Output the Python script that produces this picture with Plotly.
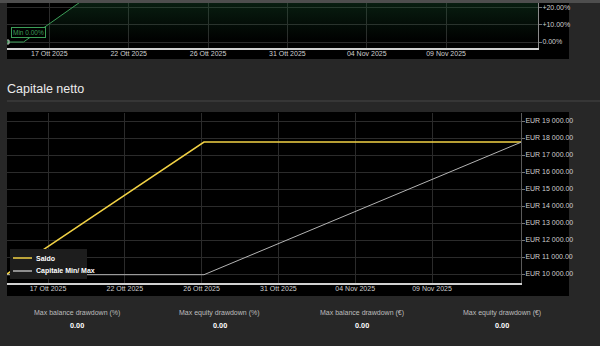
import plotly.graph_objects as go

# ---------------- data ----------------
dates = ["2025-10-14 10:30", "2025-10-26 18:00", "2025-11-15 13:30"]
saldo = [10000, 17760, 17760]
capitale_min_max = [9960, 9960, 17750]

growth_dates = ["2025-10-14 10:30", "2025-10-15 10:30", "2025-10-26 18:00", "2025-11-15 13:30"]
growth_pct = [0.0, 0.0, 77.6, 77.6]

tick_dates = ["2025-10-17 00:00", "2025-10-21 19:12", "2025-10-26 14:24",
              "2025-10-31 09:36", "2025-11-05 04:48", "2025-11-10 00:00"]
tick_labels = ["17 Ott 2025", "22 Ott 2025", "26 Ott 2025",
               "31 Ott 2025", "04 Nov 2025", "09 Nov 2025"]

eur_ticks = [10000, 11000, 12000, 13000, 14000, 15000, 16000, 17000, 18000, 19000]
eur_labels = ["EUR " + f"{v:,.2f}".replace(",", " ") for v in eur_ticks]
pct_ticks = [0, 10, 20]
pct_labels = ["0.00%", "+10.00%", "+20.00%"]

stat_labels = ["Max balance drawdown (%)", "Max equity drawdown (%)",
               "Max balance drawdown (\u20ac)", "Max equity drawdown (\u20ac)"]
stat_values = ["0.00", "0.00", "0.00", "0.00"]

x_range = ["2025-10-14 10:30", "2025-11-15 13:30"]
eur_range = [9471, 19471]
pct_range = [-3.53, 24.7]

# ---------------- layout helpers ----------------
W, H = 600, 346
def px(x):
    return x / W
def py(y):
    return 1 - y / H

FONT = "Liberation Sans, Arial, sans-serif"
GRID = "#2b2b2b"
TICKC = "#cfcfcf"
SALDO_C = "#f2d245"
CAP_C = "#b4b4b4"
GREEN = "#3c9e58"

fig = go.Figure()

# top (growth) chart
fig.add_trace(go.Scatter(
    x=growth_dates, y=growth_pct, mode="lines+markers", name="Crescita",
    line=dict(color=GREEN, width=1),
    marker=dict(size=[4, 0, 0, 0], symbol="square", color=GREEN),
    fill="tozeroy",
    fillgradient=dict(type="vertical",
                      colorscale=[[0, "rgba(30,110,60,0)"], [1, "rgba(30,110,60,0.9)"]]),
    xaxis="x2", yaxis="y2", showlegend=False, hoverinfo="skip"))

# main chart
fig.add_trace(go.Scatter(x=dates, y=saldo, mode="lines", name="Saldo",
                         line=dict(color=SALDO_C, width=1.5),
                         xaxis="x", yaxis="y", showlegend=False))
fig.add_trace(go.Scatter(x=dates, y=capitale_min_max, mode="lines", name="Capitale Min/ Max",
                         line=dict(color=CAP_C, width=1),
                         xaxis="x", yaxis="y", showlegend=False))

axis_font = dict(family=FONT, size=7, color=TICKC)

fig.update_layout(
    width=W, height=H, autosize=False,
    margin=dict(l=0, r=0, t=0, b=0, pad=0),
    paper_bgcolor="#272727", plot_bgcolor="#000000",
    showlegend=False,
    xaxis=dict(domain=[px(7), px(521)], anchor="y", type="date", range=x_range,
               tickvals=tick_dates, ticktext=tick_labels, tickfont=axis_font,
               showgrid=True, gridcolor=GRID, gridwidth=1,
               showline=True, linecolor="#d0d0d0", linewidth=1.5,
               ticks="", zeroline=False, ticklabelstandoff=-2),
    yaxis=dict(domain=[py(283), py(113)], anchor="x", side="right", range=eur_range,
               tickvals=eur_ticks, ticktext=eur_labels, tickfont=axis_font,
               showgrid=True, gridcolor=GRID, gridwidth=1,
               showline=True, linecolor="#5a5a5a", linewidth=1,
               ticks="outside", ticklen=3, tickcolor="#777", zeroline=False,
               ticklabelstandoff=-1),
    xaxis2=dict(domain=[px(7), px(538)], anchor="y2", type="date", range=x_range,
                tickvals=tick_dates, ticktext=tick_labels, tickfont=axis_font,
                showgrid=True, gridcolor=GRID, gridwidth=1,
                showline=True, linecolor="#d0d0d0", linewidth=1.5,
                ticks="", zeroline=False, ticklabelstandoff=-2),
    yaxis2=dict(domain=[py(48), 1], anchor="x2", side="right", range=pct_range,
                tickvals=pct_ticks, ticktext=pct_labels, tickfont=axis_font,
                showgrid=True, gridcolor=GRID, gridwidth=1,
                showline=True, linecolor="#8a8a8a", linewidth=1,
                ticks="outside", ticklen=3, tickcolor="#777", zeroline=False,
                ticklabelstandoff=-1),
)

shapes = []
# panels
shapes.append(dict(type="rect", xref="paper", yref="paper", x0=px(7), x1=px(569),
                   y0=py(59), y1=1, fillcolor="#000000", line=dict(width=0), layer="below"))
shapes.append(dict(type="rect", xref="paper", yref="paper", x0=px(7), x1=px(569),
                   y0=py(296), y1=py(112), fillcolor="#000000", line=dict(width=0), layer="below"))
# top header bar
shapes.append(dict(type="rect", xref="paper", yref="paper", x0=0, x1=1,
                   y0=py(3), y1=1, fillcolor="#4e4e4e", line=dict(width=0), layer="above"))
# separator under title
shapes.append(dict(type="line", xref="paper", yref="paper", x0=px(7), x1=1,
                   y0=py(101), y1=py(101), line=dict(color="#464646", width=1)))
# custom legend box and swatches
shapes.append(dict(type="rect", xref="paper", yref="paper", x0=px(10), x1=px(87),
                   y0=py(279), y1=py(249), fillcolor="#1d1d1d", line=dict(width=0), layer="above"))
shapes.append(dict(type="line", xref="paper", yref="paper", x0=px(13), x1=px(32),
                   y0=py(258), y1=py(258), line=dict(color=SALDO_C, width=1.5), layer="above"))
shapes.append(dict(type="line", xref="paper", yref="paper", x0=px(13), x1=px(32),
                   y0=py(271), y1=py(271), line=dict(color=CAP_C, width=1.5), layer="above"))
fig.update_layout(shapes=shapes)

ann = []
ann.append(dict(xref="paper", yref="paper", x=px(5), y=py(89), xanchor="left", yanchor="middle",
                text="Capitale netto", showarrow=False,
                font=dict(family=FONT, size=12.5, color="#ececec")))
ann.append(dict(xref="x2", yref="y2", x=growth_dates[0], y=growth_pct[0],
                xanchor="left", yanchor="bottom", xshift=4, yshift=4,
                text="Min 0.00%", showarrow=False, bgcolor="#000000",
                bordercolor=GREEN, borderwidth=1, borderpad=1,
                font=dict(family=FONT, size=6.5, color=GREEN)))
for i, name in enumerate(["Saldo", "Capitale Min/ Max"]):
    ann.append(dict(xref="paper", yref="paper", x=px(34), y=py(258 + 13 * i),
                    xanchor="left", yanchor="middle", text="<b>" + name + "</b>", showarrow=False,
                    font=dict(family=FONT, size=7, color="#ffffff")))
centers = [77, 220, 362, 502]
for c, lab, val in zip(centers, stat_labels, stat_values):
    ann.append(dict(xref="paper", yref="paper", x=px(c), y=py(313), xanchor="center",
                    yanchor="middle", text=lab, showarrow=False,
                    font=dict(family=FONT, size=7, color="#bdbdbd")))
    ann.append(dict(xref="paper", yref="paper", x=px(c), y=py(325), xanchor="center",
                    yanchor="middle", text="<b>" + val + "</b>", showarrow=False,
                    font=dict(family=FONT, size=7.3, color="#ffffff")))
fig.update_layout(annotations=ann)

fig.write_html("out.html")
